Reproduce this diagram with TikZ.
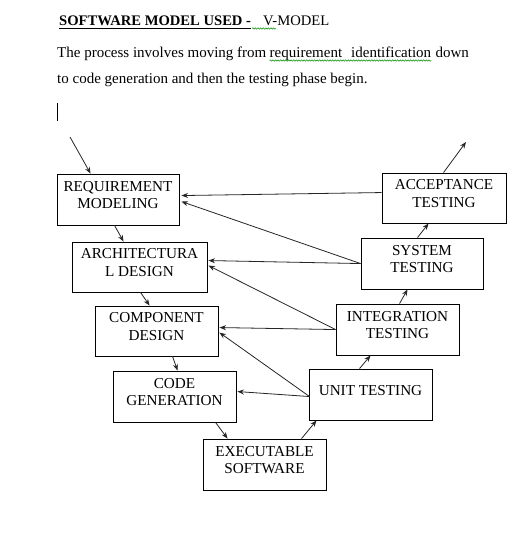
\documentclass[tikz,border=0pt]{standalone}
\usepackage{fontspec}
\setmainfont{Liberation Serif}
\usetikzlibrary{calc,arrows.meta,decorations.pathmorphing}
\newcommand\bxtext[1]{\raisebox{3pt}[\height][\depth]{\begin{tabular}{@{}c@{}}#1\end{tabular}}}
\begin{document}
\begin{tikzpicture}[x=1pt,y=-1pt,
  box/.style={draw=black, line width=0.9pt, rectangle, inner sep=0pt, align=center,
    font=\fontsize{15.2}{17.5}\selectfont},
  arr/.style={draw=black!85, line width=0.8pt, -{Stealth[length=6.5pt,width=5pt]}},
  txt/.style={inner sep=0pt, anchor=base west, font=\fontsize{15}{17}\selectfont},
  wavy/.style={draw=green!55!black, line width=0.5pt, decorate,
    decoration={snake, amplitude=0.7pt, segment length=2.6pt}}]
\useasboundingbox[fill=white] (0,0) rectangle (526,533);

% header text
\node[txt, font=\fontsize{14.6}{17}\selectfont\bfseries] (t1) at (59,25) {SOFTWARE MODEL USED - };
\node[txt, font=\fontsize{14.6}{17}\selectfont] (t2) at (263,25) {V-MODEL};
\draw[line width=0.8pt] ($(t1.base west)+(0,3.5)$) -- ($(t1.base east)+(0,3.5)$);
\draw[wavy] ($(t2.base west)+(-11,3.5)$) -- ($(t2.base west)+(13,3.5)$);

\node[txt] (l1a) at (57,57) {The process involves moving from};
\node[txt] (l1b) at ($(l1a.base east)+(3,0)$) {requirement\hspace{0.6em}identification};
\node[txt] (l1c) at ($(l1b.base east)+(4,0)$) {down};
\draw[wavy] ($(l1b.base west)+(0,3.5)$) -- ($(l1b.base east)+(0,3.5)$);
\node[txt] (l2) at (57,83) {to code generation and then the testing phase begin.};
\draw[line width=1.6pt] (57.5,103) coordinate (cur1) -- (57.5,121) coordinate (cur2);

% boxes
\node[box, minimum width=122pt, minimum height=51pt] (req)   at (118,199.5)   {\bxtext{REQUIREMENT\\MODELING}};
\node[box, minimum width=135pt, minimum height=50pt] (arch)  at (139.5,267)   {\bxtext{ARCHITECTURA\\L DESIGN}};
\node[box, minimum width=123pt, minimum height=50pt] (comp)  at (156.5,331)   {\bxtext{COMPONENT\\DESIGN}};
\node[box, minimum width=123pt, minimum height=51pt] (code)  at (174.5,396.5) {\bxtext{CODE\\GENERATION}};
\node[box, minimum width=123pt, minimum height=51pt] (exec)  at (264.5,464.5) {\bxtext{EXECUTABLE\\SOFTWARE}};
\node[box, minimum width=123pt, minimum height=51pt] (unit)  at (370.5,394.5) {\bxtext{UNIT TESTING}};
\node[box, minimum width=123pt, minimum height=51pt] (integ) at (397.5,329.5) {\bxtext{INTEGRATION\\TESTING}};
\node[box, minimum width=122pt, minimum height=51pt] (sys)   at (422,263.5)   {\bxtext{SYSTEM\\TESTING}};
\node[box, minimum width=124pt, minimum height=50pt] (acc)   at (444,198)     {\bxtext{ACCEPTANCE\\TESTING}};

% free ends
\coordinate (s0) at (70,137);
\coordinate (e0) at (466,142);

% descending / ascending chain
\draw[arr] (s0) -- ($(req.north west)+(34,0)$);
\draw[arr] ($(req.south west)+(58,0)$) -- ($(arch.north west)+(52,0)$);
\draw[arr] ($(arch.south west)+(69,0)$) -- ($(comp.north west)+(55,0)$);
\draw[arr] ($(comp.south west)+(78,0)$) -- ($(code.north west)+(65,0)$);
\draw[arr] ($(code.south west)+(103,0)$) -- ($(exec.north west)+(25,0)$);
\draw[arr] ($(exec.north west)+(99,0)$) -- ($(unit.south west)+(8,0)$);
\draw[arr] ($(unit.north west)+(51,0)$) -- ($(integ.south west)+(35,0)$);
\draw[arr] ($(integ.north west)+(64,0)$) -- ($(sys.south west)+(47,0)$);
\draw[arr] ($(sys.north west)+(57,0)$) -- ($(acc.south west)+(47,0)$);
\draw[arr] ($(acc.north west)+(62,0)$) -- (e0);

% feedback arrows
\draw[arr] ($(acc.north west)+(0,20)$) -- ($(req.north east)+(2,22)$);
\draw[arr] ($(sys.north west)+(0,26)$) -- ($(req.north east)+(2,28)$);
\draw[arr] ($(sys.north west)+(0,26)$) -- ($(arch.north east)+(1,19)$);
\draw[arr] ($(integ.north west)+(0,26)$) -- ($(arch.north east)+(1,24)$);
\draw[arr] ($(integ.north west)+(0,26)$) -- ($(comp.north east)+(1,22)$);
\draw[arr] ($(unit.north west)+(1,28)$) -- ($(comp.north east)+(1,27)$);
\draw[arr] ($(unit.north west)+(1,28)$) -- ($(code.north east)+(1,21)$);
\end{tikzpicture}
\end{document}
